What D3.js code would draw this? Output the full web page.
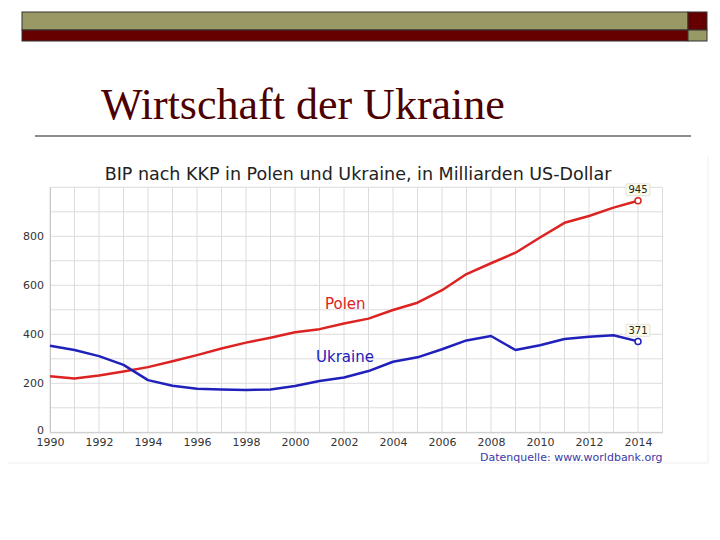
<!DOCTYPE html>
<html>
<head>
<meta charset="utf-8">
<script src="https://cdn.jsdelivr.net/npm/d3@7"></script>
<style>
  html, body { margin: 0; padding: 0; background: #fff; }
  svg { display: block; }
</style>
</head>
<body>
<svg id="chart" width="720" height="540"></svg>
<script>
// Data (GDP PPP, bn US$)
var years = d3.range(1990, 2015);
var polen = [229, 220, 232, 248, 266, 290, 315, 342, 366, 386, 408, 421, 444, 464,
             499, 529, 580, 646, 690, 733, 795, 855, 883, 917, 945];
var ukraine = [353, 336, 311, 275, 213, 190, 178, 175, 173, 175, 189, 209, 224, 250,
               288, 306, 339, 375, 393, 336, 355, 381, 390, 396, 371];
var yTicks = [0, 200, 400, 600, 800];
var xTicks = d3.range(1990, 2015, 2);

var svg = d3.select("#chart");

// slide header bars
var hdr = svg.append("g");
hdr.append("rect").attr("x", 22).attr("y", 12).attr("width", 666).attr("height", 18)
  .attr("fill", "#999966");
hdr.append("rect").attr("x", 22).attr("y", 30).attr("width", 666).attr("height", 11)
  .attr("fill", "#660000");
hdr.append("rect").attr("x", 688).attr("y", 12).attr("width", 19).attr("height", 18)
  .attr("fill", "#660000");
hdr.append("rect").attr("x", 688).attr("y", 30).attr("width", 19).attr("height", 11)
  .attr("fill", "#999966");
hdr.selectAll("rect").attr("stroke", "#333").attr("stroke-width", 1);

svg.append("text")
  .attr("x", 101).attr("y", 119)
  .attr("fill", "#4d0000")
  .style("font-family", "'Liberation Serif', 'Times New Roman', serif")
  .style("font-size", "44px")
  .text("Wirtschaft der Ukraine");

svg.append("line").attr("x1", 35).attr("x2", 691).attr("y1", 136).attr("y2", 136)
  .attr("stroke", "#666").attr("stroke-width", 1.5);

// chart image frame
svg.append("path").attr("d", "M8,463H708V157")
  .attr("fill", "none").attr("stroke", "#eee").attr("stroke-width", 1);

var x = d3.scaleLinear().domain([1990, 2015]).range([50, 662.5]);
var y = d3.scaleLinear().domain([0, 1000]).range([432.3, 187.3]);

var font = "'DejaVu Sans', Verdana, sans-serif";

svg.append("text")
  .attr("x", 358).attr("y", 180)
  .attr("text-anchor", "middle")
  .attr("fill", "#222")
  .style("font-family", font).style("font-size", "17.5px")
  .text("BIP nach KKP in Polen und Ukraine, in Milliarden US-Dollar");

// grid
var grid = svg.append("g").attr("stroke", "#dcdcdc").attr("stroke-width", 1);
grid.selectAll("line.v").data(d3.range(1990, 2016)).join("line")
  .attr("x1", function (d) { return x(d); }).attr("x2", function (d) { return x(d); })
  .attr("y1", y(0)).attr("y2", y(1000));
grid.selectAll("line.h").data(d3.range(0, 1001, 100)).join("line")
  .attr("x1", x(1990)).attr("x2", x(2015))
  .attr("y1", function (d) { return y(d); }).attr("y2", function (d) { return y(d); });

// axes
var xAxis = d3.axisBottom(x).tickValues(xTicks).tickFormat(d3.format("d")).tickSize(0).tickPadding(6);
var gx = svg.append("g").attr("transform", "translate(0," + y(0) + ")").call(xAxis);
gx.select(".domain").attr("stroke", "#c8c8c8");
gx.selectAll("text").attr("fill", "#333").style("font-family", font).style("font-size", "11px");

var yAxis = d3.axisLeft(y).tickValues(yTicks).tickSize(0).tickPadding(6);
var gy = svg.append("g").attr("transform", "translate(" + x(1990) + ",0)").call(yAxis);
gy.select(".domain").attr("stroke", "#c8c8c8");
gy.selectAll("text").attr("fill", "#333").style("font-family", font).style("font-size", "11px");
gy.selectAll(".tick").filter(function (d) { return d === 0; }).select("text").attr("dy", "0.1em");

// lines
var series = [
  { name: "Polen", values: polen, color: "#dd2222", lx: 325, ly: 309 },
  { name: "Ukraine", values: ukraine, color: "#2020bb", lx: 316, ly: 362 }
];
var line = d3.line()
  .x(function (d, i) { return x(years[i]); })
  .y(function (d) { return y(d); });

series.forEach(function (s) {
  svg.append("path").datum(s.values)
    .attr("d", line)
    .attr("fill", "none")
    .attr("stroke", s.color)
    .attr("stroke-width", 2.5)
    .attr("stroke-linejoin", "round");

  var last = s.values[s.values.length - 1];
  var cx = x(years[years.length - 1]), cy = y(last);
  svg.append("circle").attr("cx", cx).attr("cy", cy).attr("r", 3)
    .attr("fill", "#fff").attr("stroke", s.color).attr("stroke-width", 1.5);

  svg.append("rect")
    .attr("x", cx - 12).attr("y", cy - 17).attr("width", 24).attr("height", 12)
    .attr("fill", "#fbfbe6").attr("stroke", "#ddd").attr("stroke-width", 0.8).attr("rx", 1);
  svg.append("text")
    .attr("x", cx).attr("y", cy - 7.5)
    .attr("text-anchor", "middle").attr("fill", "#222")
    .style("font-family", font).style("font-size", "10px")
    .text(last);

  svg.append("text")
    .attr("x", s.lx).attr("y", s.ly)
    .attr("fill", s.color)
    .style("font-family", font).style("font-size", "15px")
    .text(s.name);
});

svg.append("text")
  .attr("x", x(2015)).attr("y", 461)
  .attr("text-anchor", "end")
  .attr("fill", "#3a3aaa")
  .style("font-family", font).style("font-size", "11px")
  .text("Datenquelle: www.worldbank.org");
</script>
</body>
</html>
